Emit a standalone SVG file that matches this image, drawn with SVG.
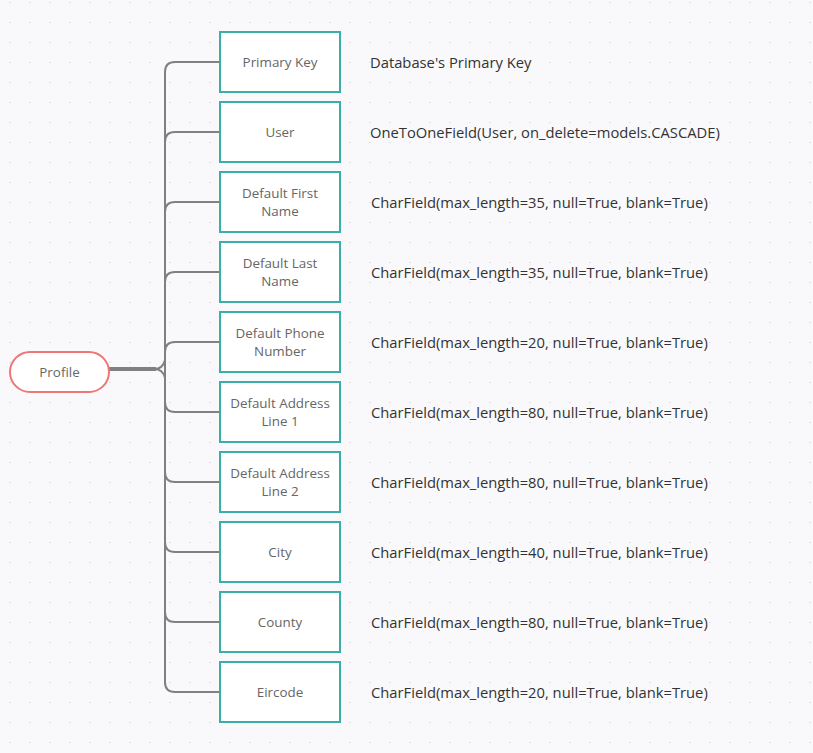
<svg xmlns="http://www.w3.org/2000/svg" width="813" height="753" viewBox="0 0 813 753">
<defs>
<pattern id="dots" x="0" y="2" width="20" height="20" patternUnits="userSpaceOnUse">
<circle cx="10" cy="0" r="1.1" fill="#dcdce0"/>
</pattern>
<style>
.box{fill:#ffffff;stroke:#3aafa9;stroke-width:2}
.pill{fill:#ffffff;stroke:#f07575;stroke-width:2}
.lbl{font-family:"Open Sans","Noto Sans",sans-serif;font-size:13.4px;fill:#666666;text-anchor:middle}
.desc{font-family:"Open Sans","Noto Sans",sans-serif;font-size:14.75px;fill:#333333}
.conn path{fill:none;stroke:#808080;stroke-width:2}
</style>
</defs>
<rect width="813" height="753" fill="#f9f9fb"/>
<rect width="813" height="753" fill="url(#dots)"/>
<g id="connectors" class="conn">
<path d="M109 369 L156 369" style="stroke-width:4"/>
<path d="M154 369 Q163 369 165 360"/>
<path d="M154 369 Q163 369 165 378"/>
<path d="M165 369 L165 72 Q165 62 175 62 L220 62"/>
<path d="M165 369 L165 142 Q165 132 175 132 L220 132"/>
<path d="M165 369 L165 212 Q165 202 175 202 L220 202"/>
<path d="M165 369 L165 282 Q165 272 175 272 L220 272"/>
<path d="M165 369 L165 352 Q165 342 175 342 L220 342"/>
<path d="M165 369 L165 402 Q165 412 175 412 L220 412"/>
<path d="M165 369 L165 472 Q165 482 175 482 L220 482"/>
<path d="M165 369 L165 542 Q165 552 175 552 L220 552"/>
<path d="M165 369 L165 612 Q165 622 175 622 L220 622"/>
<path d="M165 369 L165 682 Q165 692 175 692 L220 692"/>
</g>
<g id="profile">
<rect class="pill" x="10" y="352" width="99" height="40" rx="20"/>
<text class="lbl" x="59.5" y="377">Profile</text>
</g>
<g id="primary-key">
<rect class="box" x="220" y="32" width="120" height="60"/>
<text class="lbl" x="280" y="67">Primary Key</text>
<text class="desc" x="370" y="68">Database's Primary Key</text>
</g>
<g id="user">
<rect class="box" x="220" y="102" width="120" height="60"/>
<text class="lbl" x="280" y="137">User</text>
<text class="desc" x="370" y="138">OneToOneField(User, on_delete=models.CASCADE)</text>
</g>
<g id="default-first-name">
<rect class="box" x="220" y="172" width="120" height="60"/>
<text class="lbl" x="280" y="198">Default First</text>
<text class="lbl" x="280" y="216">Name</text>
<text class="desc" x="371" y="208">CharField(max_length=35, null=True, blank=True)</text>
</g>
<g id="default-last-name">
<rect class="box" x="220" y="242" width="120" height="60"/>
<text class="lbl" x="280" y="268">Default Last</text>
<text class="lbl" x="280" y="286">Name</text>
<text class="desc" x="371" y="278">CharField(max_length=35, null=True, blank=True)</text>
</g>
<g id="default-phone-number">
<rect class="box" x="220" y="312" width="120" height="60"/>
<text class="lbl" x="280" y="338">Default Phone</text>
<text class="lbl" x="280" y="356">Number</text>
<text class="desc" x="371" y="348">CharField(max_length=20, null=True, blank=True)</text>
</g>
<g id="default-address-line-1">
<rect class="box" x="220" y="382" width="120" height="60"/>
<text class="lbl" x="280" y="408">Default Address</text>
<text class="lbl" x="280" y="426">Line 1</text>
<text class="desc" x="371" y="418">CharField(max_length=80, null=True, blank=True)</text>
</g>
<g id="default-address-line-2">
<rect class="box" x="220" y="452" width="120" height="60"/>
<text class="lbl" x="280" y="478">Default Address</text>
<text class="lbl" x="280" y="496">Line 2</text>
<text class="desc" x="371" y="488">CharField(max_length=80, null=True, blank=True)</text>
</g>
<g id="city">
<rect class="box" x="220" y="522" width="120" height="60"/>
<text class="lbl" x="280" y="557">City</text>
<text class="desc" x="371" y="558">CharField(max_length=40, null=True, blank=True)</text>
</g>
<g id="county">
<rect class="box" x="220" y="592" width="120" height="60"/>
<text class="lbl" x="280" y="627">County</text>
<text class="desc" x="371" y="628">CharField(max_length=80, null=True, blank=True)</text>
</g>
<g id="eircode">
<rect class="box" x="220" y="662" width="120" height="60"/>
<text class="lbl" x="280" y="697">Eircode</text>
<text class="desc" x="371" y="698">CharField(max_length=20, null=True, blank=True)</text>
</g>
</svg>
